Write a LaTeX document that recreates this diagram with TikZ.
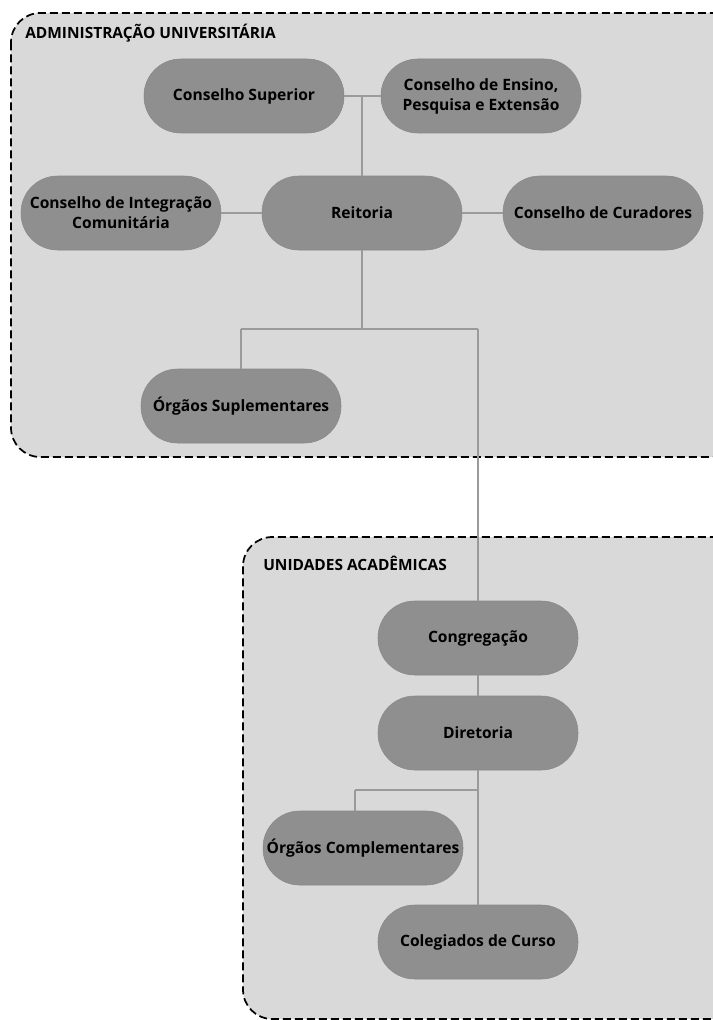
\documentclass[tikz,border=0pt]{standalone}
\usepackage{fontspec}
\setmainfont{Open Sans}
\begin{document}
\begin{tikzpicture}[x=0.75pt,y=-0.75pt,
  pill/.style={rectangle, rounded corners=27.5pt, fill=boxgray, draw=boxedge, line width=0.4pt,
     minimum width=150pt, minimum height=55.5pt, inner sep=2pt, align=center,
     font=\fontsize{11.7}{15}\selectfont\bfseries},
  group/.style={draw=black, fill=areagray, line width=1.3pt, dash pattern=on 6pt off 3pt, rounded corners=22pt},
  link/.style={draw=linegray, line width=0.9pt},
  title/.style={anchor=west, inner sep=0pt, font=\fontsize{11.6}{14}\selectfont\bfseries}]
\definecolor{boxgray}{HTML}{8F8F8F}
\definecolor{boxedge}{HTML}{888888}
\definecolor{areagray}{HTML}{D9D9D9}
\definecolor{linegray}{HTML}{9A9A9A}
\useasboundingbox (0,0) rectangle (713,1020);
\clip (0,0) rectangle (713,1020);
\fill[white] (0,0) rectangle (713,1020);
% groups
\draw[group] (11,13) rectangle (740,457);
\draw[group] (243,537) rectangle (740,1019);
\node[title] (t1) at (25,33) {ADMINISTRAÇÃO UNIVERSITÁRIA};
\node[title] (t2) at (263,563) {UNIDADES ACADÊMICAS};
% nodes
\node[pill] (sup) at (244,96) {Conselho Superior};
\node[pill] (ens) at (481,96) {Conselho de Ensino,\\Pesquisa e Extensão};
\node[pill] (int) at (121,213) {Conselho de Integração\\Comunitária};
\node[pill] (rei) at (362,213) {Reitoria};
\node[pill] (cur) at (603,213) {Conselho de Curadores};
\node[pill] (osu) at (241,406) {Órgãos Suplementares};
\node[pill] (con) at (478,638) {Congregação};
\node[pill] (dir) at (478,733) {Diretoria};
\node[pill] (oco) at (363,848) {Órgãos Complementares};
\node[pill] (col) at (478,942) {Colegiados de Curso};
% junction coordinates
\coordinate (j1) at (362,96);
\coordinate (j2) at (362,329);
\coordinate (j3) at (241,329);
\coordinate (j4) at (478,329);
\coordinate (j5) at (478,790);
\coordinate (j6) at (355,790);
% connectors
\draw[link] (sup.east) -- (ens.west);
\draw[link] (j1) -- (rei.north);
\draw[link] (int.east) -- (rei.west);
\draw[link] (rei.east) -- (cur.west);
\draw[link] (rei.south) -- (j2);
\draw[link] (j3) -- (j4);
\draw[link] (j3) -- (osu.north -| j3);
\draw[link] (j4) -- (con.north);
\draw[link] (con.south) -- (dir.north);
\draw[link] (dir.south) -- (col.north);
\draw[link] (j6) -- (j5);
\draw[link] (j6) -- (oco.north -| j6);
\end{tikzpicture}
\end{document}
